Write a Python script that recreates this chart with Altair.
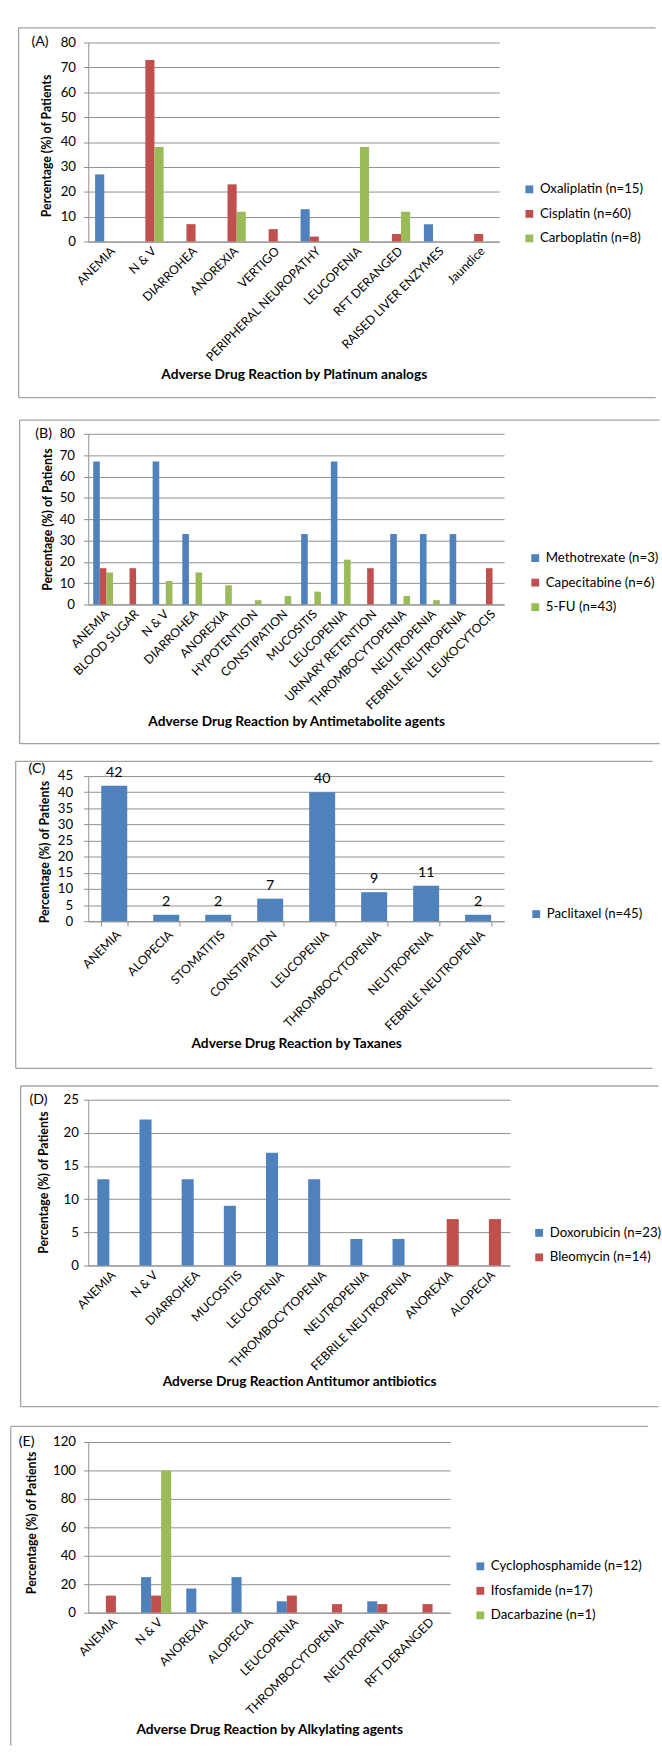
import altair as alt
import pandas as pd

FONT = "Lato"
BLUE, RED, GREEN = "#4F81BD", "#C0504D", "#9BBB59"
LINE = "#8f8f8f"
FRAME = "#a3a3a3"
PAGE_W = 662

# (A) Platinum analogs
a_categories = ["ANEMIA", "N & V", "DIARROHEA", "ANOREXIA", "VERTIGO",
                "PERIPHERAL NEUROPATHY", "LEUCOPENIA", "RFT DERANGED",
                "RAISED LIVER ENZYMES", "Jaundice"]
a_series = ["Oxaliplatin (n=15)", "Cisplatin (n=60)", "Carboplatin (n=8)"]
a_oxaliplatin = [27, 0, 0, 0, 0, 13, 0, 0, 7, 0]
a_cisplatin = [0, 73, 7, 23, 5, 2, 0, 3, 0, 3]
a_carboplatin = [0, 38, 0, 12, 0, 0, 38, 12, 0, 0]
a_ticks = [0, 10, 20, 30, 40, 50, 60, 70, 80]

# (B) Antimetabolite agents
b_categories = ["ANEMIA", "BLOOD SUGAR", "N & V", "DIARROHEA", "ANOREXIA",
                "HYPOTENTION", "CONSTIPATION", "MUCOSITIS", "LEUCOPENIA",
                "URINARY RETENTION", "THROMBOCYTOPENIA", "NEUTROPENIA",
                "FEBRILE NEUTROPENIA", "LEUKOCYTOCIS"]
b_series = ["Methotrexate (n=3)", "Capecitabine (n=6)", "5-FU (n=43)"]
b_methotrexate = [67, 0, 67, 33, 0, 0, 0, 33, 67, 0, 33, 33, 33, 0]
b_capecitabine = [17, 17, 0, 0, 0, 0, 0, 0, 0, 17, 0, 0, 0, 17]
b_fluorouracil = [15, 0, 11, 15, 9, 2, 4, 6, 21, 0, 4, 2, 0, 0]
b_ticks = [0, 10, 20, 30, 40, 50, 60, 70, 80]

# (C) Taxanes
c_categories = ["ANEMIA", "ALOPECIA", "STOMATITIS", "CONSTIPATION",
                "LEUCOPENIA", "THROMBOCYTOPENIA", "NEUTROPENIA",
                "FEBRILE NEUTROPENIA"]
c_series = ["Paclitaxel (n=45)"]
c_paclitaxel = [42, 2, 2, 7, 40, 9, 11, 2]
c_ticks = [0, 5, 10, 15, 20, 25, 30, 35, 40, 45]

# (D) Antitumor antibiotics
d_categories = ["ANEMIA", "N & V", "DIARROHEA", "MUCOSITIS", "LEUCOPENIA",
                "THROMBOCYTOPENIA", "NEUTROPENIA", "FEBRILE NEUTROPENIA",
                "ANOREXIA", "ALOPECIA"]
d_series = ["Doxorubicin (n=23)", "Bleomycin (n=14)"]
d_doxorubicin = [13, 22, 13, 9, 17, 13, 4, 4, 0, 0]
d_bleomycin = [0, 0, 0, 0, 0, 0, 0, 0, 7, 7]
d_ticks = [0, 5, 10, 15, 20, 25]

# (E) Alkylating agents
e_categories = ["ANEMIA", "N & V", "ANOREXIA", "ALOPECIA", "LEUCOPENIA",
                "THROMBOCYTOPENIA", "NEUTROPENIA", "RFT DERANGED"]
e_series = ["Cyclophosphamide (n=12)", "Ifosfamide (n=17)", "Dacarbazine (n=1)"]
e_cyclophosphamide = [0, 25, 17, 25, 8, 0, 8, 0]
e_ifosfamide = [12, 12, 0, 0, 12, 6, 6, 6]
e_dacarbazine = [0, 100, 0, 0, 0, 0, 0, 0]
e_ticks = [0, 20, 40, 60, 80, 100, 120]

Y_TITLE = "Percentage (%) of Patients"

# text sizes
TICK_SIZE = 13.5
CAT_SIZE = 12.5
LEGEND_SIZE = 13.5
TITLE_SIZE = 14
YTITLE_SIZE = 12.5

# page layout of each panel (absolute page pixels)
panels = [
    dict(tag="(A)", categories=a_categories, series=a_series,
         values=[a_oxaliplatin, a_cisplatin, a_carboplatin],
         colors=[BLUE, RED, GREEN], ticks=a_ticks, gap=1.5,
         xtitle="Adverse Drug Reaction by  Platinum analogs", ytitle=Y_TITLE,
         slice=(0, 400), plot=(82, 26, 419, 203), box=(11, 11, 388),
         ytitle_pos=(-42, 105), tag_pos=(-58, 0), xtitle_y=136,
         legend_pos=(443, 143), ylabel_pad=8),
    dict(tag="(B)", categories=b_categories, series=b_series,
         values=[b_methotrexate, b_capecitabine, b_fluorouracil],
         colors=[BLUE, RED, GREEN], ticks=b_ticks, gap=1.5,
         xtitle="Adverse Drug Reaction by Antimetabolite agents", ytitle=Y_TITLE,
         slice=(400, 750), plot=(78, 425, 424, 174), box=(8, 411, 741),
         ytitle_pos=(-41, 87), tag_pos=(-54, 0), xtitle_y=119,
         legend_pos=(449, 120), ylabel_pad=9),
    dict(tag="(C)", categories=c_categories, series=c_series,
         values=[c_paclitaxel], colors=[BLUE], ticks=c_ticks, gap=1.0,
         xtitle="Adverse Drug Reaction by Taxanes", ytitle=Y_TITLE,
         slice=(750, 1081), plot=(85, 774, 424, 148), box=(11, 759, 1072),
         ytitle_pos=(-45, 77), tag_pos=(-61, -7), xtitle_y=125,
         legend_pos=(450, 134), ylabel_pad=11, labels=True, xticks=True),
    dict(tag="(D)", categories=d_categories, series=d_series,
         values=[d_doxorubicin, d_bleomycin], colors=[BLUE, RED],
         ticks=d_ticks, gap=1.5,
         xtitle="Adverse Drug Reaction Antitumor antibiotics", ytitle=Y_TITLE,
         slice=(1081, 1428), plot=(79, 1104, 430, 169), box=(10, 1090, 1417),
         ytitle_pos=(-46, 84), tag_pos=(-60, 0), xtitle_y=118,
         legend_pos=(453, 129), ylabel_pad=5),
    dict(tag="(E)", categories=e_categories, series=e_series,
         values=[e_cyclophosphamide, e_ifosfamide, e_dacarbazine],
         colors=[BLUE, RED, GREEN], ticks=e_ticks, gap=1.5,
         xtitle="Adverse Drug Reaction by Alkylating agents",
         ytitle="Percentage (%)  of Patients",
         slice=(1428, 1764), plot=(90, 1453, 369, 174), box=(11, 1437, None),
         ytitle_pos=(-58, 82), tag_pos=(-71, 0), xtitle_y=119,
         legend_pos=(393, 120), ylabel_pad=8),
]

one_row = pd.DataFrame({"k": [0]})


def build_panel(cfg):
    cats, series, colors = cfg["categories"], cfg["series"], cfg["colors"]
    rows = [
        {"reaction": c, "drug": s, "pct": v}
        for s, vals in zip(series, cfg["values"])
        for c, v in zip(cats, vals)
        if v > 0
    ]
    data = pd.DataFrame(rows)
    n = len(series)
    inner = cfg["gap"] / (n + cfg["gap"])
    left, top, w, h = cfg["plot"]
    s_top, s_bottom = cfg["slice"]
    b_left, b_top, b_bottom = cfg["box"]
    lx, ly = cfg["legend_pos"]
    has_ticks = cfg.get("xticks", False)

    x_axis = dict(
        title=cfg["xtitle"], titleFont=FONT, titleFontWeight="bold",
        titleFontSize=TITLE_SIZE, titleColor="black", titleX=w / 2,
        titleY=cfg["xtitle_y"], titleAlign="center", titleBaseline="middle",
        labelAngle=315, labelAlign="right", labelBaseline="top",
        labelPadding=3 if not has_ticks else 2, labelFont=FONT,
        labelFontSize=CAT_SIZE, labelColor="black", labelLimit=300,
        labelOverlap=False, domainColor=LINE, grid=False,
        ticks=has_ticks, tickColor=LINE, tickSize=5,
    )
    if has_ticks:
        x_axis["tickBand"] = "extent"

    x = alt.X(
        "reaction:N",
        scale=alt.Scale(domain=cats, paddingInner=inner, paddingOuter=inner / 2),
        axis=alt.Axis(**x_axis),
    )
    y = alt.Y(
        "pct:Q",
        scale=alt.Scale(domain=[0, cfg["ticks"][-1]], nice=False),
        axis=alt.Axis(
            values=cfg["ticks"], format="d", title=cfg["ytitle"],
            titleFont=FONT, titleFontWeight="bold", titleFontSize=YTITLE_SIZE,
            titleColor="black", titleAngle=270, titleX=cfg["ytitle_pos"][0],
            titleY=cfg["ytitle_pos"][1], titleAlign="center",
            titleBaseline="middle", labelFont=FONT, labelFontSize=TICK_SIZE,
            labelColor="black", labelPadding=cfg["ylabel_pad"], tickSize=5,
            tickColor=LINE, domainColor=LINE, grid=True, gridColor=LINE,
        ),
    )
    base = alt.Chart(data).encode(x=x, y=y)
    bars = base.mark_bar().encode(
        xOffset=alt.XOffset(
            "drug:N",
            scale=alt.Scale(domain=series, paddingInner=0, paddingOuter=0),
        ),
        color=alt.Color(
            "drug:N",
            scale=alt.Scale(domain=series, range=colors),
            legend=alt.Legend(
                title=None, orient="none", legendX=lx, legendY=ly,
                symbolType="square", symbolSize=64, symbolStrokeWidth=0,
                labelFont=FONT, labelFontSize=LEGEND_SIZE, labelColor="black",
                labelOffset=4, rowPadding=10, padding=0,
                labelLimit=PAGE_W - 3 - (left + lx + 12),
            ),
        ),
    )

    # invisible sheet spanning this panel's slice of the page (sets its extent)
    sheet = alt.Chart(one_row).mark_rect(color="white", opacity=0).encode(
        x=alt.value(-left), x2=alt.value(PAGE_W - left),
        y=alt.value(s_top - top), y2=alt.value(s_bottom - top),
    )
    layers = [sheet, bars]
    if cfg.get("labels"):
        layers.append(
            base.mark_text(dy=-13, font=FONT, fontSize=14.5, color="black").encode(
                text=alt.Text("pct:Q", format="d")
            )
        )

    # frame around the panel
    right = PAGE_W - 1.5 - left
    fl = b_left - left
    ft = b_top - top
    fb = (b_bottom - top) if b_bottom is not None else (s_bottom - 1.5 - top)
    rule = dict(color=FRAME, strokeWidth=1.3)
    layers.append(alt.Chart(one_row).mark_rule(**rule).encode(
        x=alt.value(fl), x2=alt.value(right), y=alt.value(ft)))
    layers.append(alt.Chart(one_row).mark_rule(**rule).encode(
        x=alt.value(fl), y=alt.value(ft), y2=alt.value(fb)))
    if b_bottom is not None:
        layers.append(alt.Chart(one_row).mark_rule(**rule).encode(
            x=alt.value(fl), x2=alt.value(right), y=alt.value(fb)))

    tx, ty = cfg["tag_pos"]
    layers.append(alt.Chart(one_row).mark_text(
        text=cfg["tag"], align="left", baseline="middle", font=FONT,
        fontSize=14.5, color="black",
    ).encode(x=alt.value(tx), y=alt.value(ty)))

    return alt.layer(*layers).properties(width=w, height=h)


chart = (
    alt.vconcat(*[build_panel(p) for p in panels], spacing=0)
    .resolve_scale(x="independent", y="independent", color="independent",
                   xOffset="independent")
    .resolve_axis(x="independent", y="independent")
    .resolve_legend(color="independent")
    .properties(padding=0)
    .configure(font=FONT, background="white")
    .configure_view(strokeWidth=0)
)

chart.save("out.html", embed_options={"renderer": "svg", "actions": False})
